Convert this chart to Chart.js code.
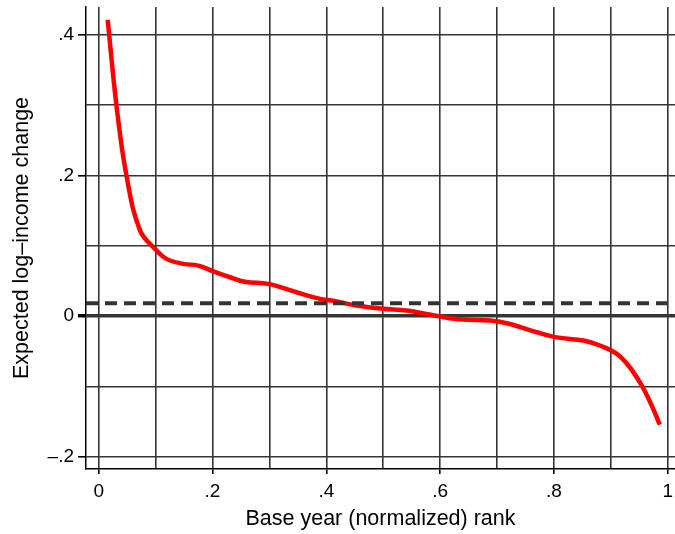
<!DOCTYPE html>
<html>
<head>
<meta charset="utf-8">
<script src="https://cdn.jsdelivr.net/npm/chart.js@4/dist/chart.umd.min.js"></script>
<style>
  html, body { margin: 0; padding: 0; background: #fff; }
  #wrap { width: 675px; height: 534px; }
</style>
</head>
<body>
<div id="wrap"><canvas id="rankChart"></canvas></div>
<script>
// red curve
const rankX = [0.0158, 0.0316, 0.049, 0.0726, 0.099, 0.119, 0.149, 0.175, 0.201, 0.231,
  0.257, 0.298, 0.324, 0.360, 0.389, 0.418, 0.453, 0.500, 0.541, 0.600,
  0.641, 0.688, 0.723, 0.770, 0.805, 0.852, 0.881, 0.910, 0.931, 0.954,
  0.972, 0.986];
const incomeChange = [0.421, 0.297, 0.199, 0.122, 0.0957, 0.0815, 0.0744, 0.072, 0.064, 0.0554,
  0.049, 0.046, 0.0403, 0.031, 0.0247, 0.021, 0.0152, 0.0105, 0.0081, -0.0004,
  -0.0047, -0.006, -0.011, -0.0227, -0.030, -0.0345, -0.0416, -0.053, -0.070, -0.098,
  -0.127, -0.154];

// dashed reference line
const meanChange = 0.0185;

// axes
const xMin = -0.0223, xMax = 1.0128;
const yMin = -0.217, yMax = 0.4393;
const xGrid = [0, 0.1, 0.2, 0.3, 0.4, 0.5, 0.6, 0.7, 0.8, 0.9, 1];
const xTickLabels = {0: '0', 0.2: '.2', 0.4: '.4', 0.6: '.6', 0.8: '.8', 1: '1'};
const yGrid = [-0.2, -0.1, 0, 0.1, 0.2, 0.3, 0.4];
const yTickLabels = {'-0.2': '–.2', 0: '0', 0.2: '.2', 0.4: '.4'};

const FONT = "'Liberation Sans', Arial, Helvetica, sans-serif";
const GRID = '#353535';

function labelFor(map, v) {
  const key = String(Math.round(v * 10) / 10);
  return key in map ? map[key] : '';
}

const ctx = document.getElementById('rankChart').getContext('2d');
const chart = new Chart(ctx, {
  type: 'line',
  data: {
    datasets: [
      {
        label: 'mean',
        data: [{x: xMin, y: meanChange}, {x: xMax, y: meanChange}],
        borderColor: '#333',
        borderWidth: 4,
        borderDash: [12, 7],
        pointRadius: 0,
        fill: false
      },
      {
        label: 'Expected log-income change',
        data: rankX.map((x, i) => ({x: x, y: incomeChange[i]})),
        borderColor: '#ff0000',
        borderWidth: 4.5,
        pointRadius: 0,
        tension: 0.4,
        fill: false
      }
    ]
  },
  options: {
    responsive: true,
    maintainAspectRatio: false,
    animation: false,
    layout: { padding: { top: 7, right: 0, left: 0, bottom: 0 } },
    plugins: { legend: { display: false }, tooltip: { enabled: false } },
    scales: {
      x: {
        type: 'linear',
        min: xMin,
        max: xMax,
        afterBuildTicks: s => { s.ticks = xGrid.map(v => ({value: v})); },
        afterFit: s => { s.height = 65; s.paddingLeft = 0; s.paddingRight = 0; },
        ticks: {
          autoSkip: false,
          maxRotation: 0,
          padding: 6,
          color: '#000',
          font: { family: FONT, size: 19 },
          callback: v => labelFor(xTickLabels, v)
        },
        grid: {
          color: GRID,
          lineWidth: 1.6,
          tickLength: 5,
          tickColor: c => labelFor(xTickLabels, c.tick.value) ? '#000' : 'rgba(0,0,0,0)'
        },
        border: { display: true, color: '#000', width: 1.5 },
        title: {
          display: true,
          text: 'Base year (normalized) rank',
          color: '#000',
          font: { family: FONT, size: 21.5 },
          padding: { top: 0, bottom: 2 }
        }
      },
      y: {
        min: yMin,
        max: yMax,
        afterBuildTicks: s => { s.ticks = yGrid.map(v => ({value: v})); },
        afterFit: s => { s.width = 86; s.paddingTop = 0; s.paddingBottom = 0; },
        ticks: {
          autoSkip: false,
          padding: 4,
          color: '#000',
          font: { family: FONT, size: 19 },
          callback: v => labelFor(yTickLabels, v)
        },
        grid: {
          color: GRID,
          lineWidth: c => (c.tick && Math.abs(c.tick.value) < 1e-9) ? 3.5 : 1.6,
          tickLength: 8,
          tickColor: c => labelFor(yTickLabels, c.tick.value) ? '#000' : 'rgba(0,0,0,0)'
        },
        border: { display: true, color: '#000', width: 1.5 },
        title: {
          display: true,
          text: 'Expected log–income change',
          color: '#000',
          font: { family: FONT, size: 21.5 },
          padding: { top: 9, bottom: 0 }
        }
      }
    }
  }
});
</script>
</body>
</html>
